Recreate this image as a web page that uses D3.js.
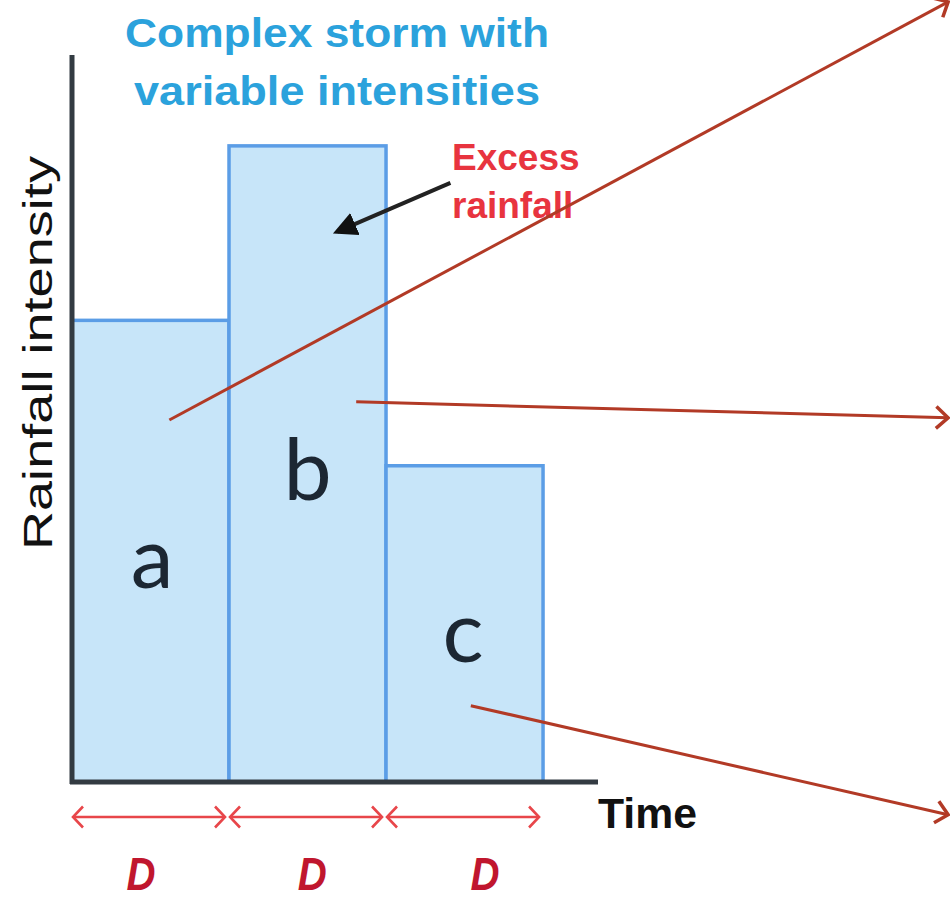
<!DOCTYPE html>
<html>
<head>
<meta charset="utf-8">
<script src="https://cdn.jsdelivr.net/npm/d3@7"></script>
<style>
  body { margin: 0; background: #fff; }
  svg { display: block; }
</style>
</head>
<body>
<div id="chart"></div>
<script>
let w = 952;
let h = 907;

// bars: one per duration D
const categories = ["a", "b", "c"];
const intensity = [63.5, 87.5, 43.5];
const durationLabels = ["D", "D", "D"];
const durationLabelTime = [0.44, 1.53, 2.63];

// where the letter sits inside each bar (time, intensity)
const letterTime = [0.51, 1.5, 2.49];
const letterIntensity = [26.7, 38.8, 16.5];

// red-brown arrows leaving the bars (time, intensity)
const arrowFromT = [0.62, 1.81, 2.54];
const arrowFromI = [49.8, 52.3, 10.5];
const arrowToT = [5.58, 5.58, 5.58];
const arrowToI = [107.3, 50.1, -4.5];

// "Excess rainfall" pointer
const excessFrom = [2.41, 82.4];
const excessTo = [1.69, 75.7];

let viz = d3.select("#chart")
  .append("svg")
    .attr("width", w)
    .attr("height", h);

let x = d3.scaleLinear().domain([0, 3.35]).range([72, 598]);
let y = d3.scaleLinear().domain([0, 100]).range([782, 55]);

let defs = viz.append("defs");

// open chevron head for the brown arrows
defs.append("marker")
    .attr("id", "brownHead")
    .attr("viewBox", "0 0 16 26")
    .attr("refX", 14).attr("refY", 13)
    .attr("markerWidth", 16).attr("markerHeight", 26)
    .attr("markerUnits", "userSpaceOnUse")
    .attr("orient", "auto")
  .append("path")
    .attr("d", "M2,2 L14,13 L2,24")
    .attr("fill", "none")
    .attr("stroke", "#b23a26")
    .attr("stroke-width", 3.5);

// chevrons for the D spans
defs.append("marker")
    .attr("id", "redHead")
    .attr("viewBox", "0 0 14 24")
    .attr("refX", 12).attr("refY", 12)
    .attr("markerWidth", 14).attr("markerHeight", 24)
    .attr("markerUnits", "userSpaceOnUse")
    .attr("orient", "auto-start-reverse")
  .append("path")
    .attr("d", "M2,1.5 L12,12 L2,22.5")
    .attr("fill", "none")
    .attr("stroke", "#e8464a")
    .attr("stroke-width", 2.6);

// filled black head
defs.append("marker")
    .attr("id", "blackHead")
    .attr("viewBox", "0 0 10 10")
    .attr("refX", 8).attr("refY", 5)
    .attr("markerWidth", 24).attr("markerHeight", 24)
    .attr("markerUnits", "userSpaceOnUse")
    .attr("orient", "auto")
  .append("path")
    .attr("d", "M0,0 L10,5 L0,10 Z")
    .attr("fill", "#111");

///////////////////////////////////////////////////////////////////////////
// BARS

viz.selectAll(".bar").data(intensity)
  .enter()
    .append("rect")
    .attr("class", "bar")
    .attr("x", (d, i) => x(i))
    .attr("y", d => y(d))
    .attr("width", x(1) - x(0))
    .attr("height", d => y(0) - y(d))
    .attr("fill", "#c7e5f9")
    .attr("stroke", "#5b9de6")
    .attr("stroke-width", 3.5);

viz.selectAll(".letter").data(categories)
  .enter()
    .append("text")
    .attr("class", "letter")
    .attr("x", (d, i) => x(letterTime[i]))
    .attr("y", (d, i) => y(letterIntensity[i]))
    .attr("text-anchor", "middle")
    .attr("font-family", "Lato, 'Noto Sans', sans-serif")
    .attr("font-size", 86)
    .attr("fill", "#1c2733")
    .text(d => d);

///////////////////////////////////////////////////////////////////////////
// AXES (plain lines, no ticks)

viz.append("line")
    .attr("x1", x(0)).attr("x2", x(0))
    .attr("y1", y(100)).attr("y2", y(0) + 2)
    .attr("stroke", "#333b42")
    .attr("stroke-width", 5);

viz.append("line")
    .attr("x1", x(0) - 2).attr("x2", x(3.35))
    .attr("y1", y(0)).attr("y2", y(0))
    .attr("stroke", "#333b42")
    .attr("stroke-width", 5);

viz.append("text")
    .attr("x", x(3.35))
    .attr("y", 828)
    .attr("font-family", "'Liberation Sans', Arial, sans-serif")
    .attr("font-weight", "bold")
    .attr("font-size", 42)
    .attr("textLength", 99)
    .attr("lengthAdjust", "spacingAndGlyphs")
    .attr("fill", "#111")
    .text("Time");

viz.append("text")
    .attr("transform", "translate(52," + y(59) + ") rotate(-90)")
    .attr("text-anchor", "middle")
    .attr("font-family", "'Liberation Sans', Arial, sans-serif")
    .attr("font-size", 40)
    .attr("textLength", 394)
    .attr("lengthAdjust", "spacingAndGlyphs")
    .attr("fill", "#111")
    .text("Rainfall intensity");

///////////////////////////////////////////////////////////////////////////
// D SPANS

viz.selectAll(".span").data(durationLabels)
  .enter()
    .append("line")
    .attr("class", "span")
    .attr("x1", (d, i) => x(i) + 1)
    .attr("x2", (d, i) => x(i + 1) - 4)
    .attr("y1", 817).attr("y2", 817)
    .attr("stroke", "#e8464a")
    .attr("stroke-width", 2.4)
    .attr("marker-start", "url(#redHead)")
    .attr("marker-end", "url(#redHead)");

viz.selectAll(".dlabel").data(durationLabels)
  .enter()
    .append("text")
    .attr("class", "dlabel")
    .attr("x", (d, i) => x(durationLabelTime[i]))
    .attr("y", 890)
    .attr("text-anchor", "middle")
    .attr("font-family", "'Liberation Sans', Arial, sans-serif")
    .attr("font-weight", "bold")
    .attr("font-style", "italic")
    .attr("font-size", 46)
    .attr("textLength", 29)
    .attr("lengthAdjust", "spacingAndGlyphs")
    .attr("fill", "#c0162e")
    .text(d => d);

///////////////////////////////////////////////////////////////////////////
// TITLE + ANNOTATIONS

let titleLines = ["Complex storm with", "variable intensities"];
viz.selectAll(".title").data(titleLines)
  .enter()
    .append("text")
    .attr("class", "title")
    .attr("x", 337)
    .attr("y", (d, i) => 47 + i * 58)
    .attr("text-anchor", "middle")
    .attr("font-family", "'Liberation Sans', Arial, sans-serif")
    .attr("font-weight", "bold")
    .attr("font-size", 40)
    .attr("textLength", (d, i) => i == 0 ? 424 : 406)
    .attr("lengthAdjust", "spacingAndGlyphs")
    .attr("fill", "#2ba2dc")
    .text(d => d);

let excessLines = ["Excess", "rainfall"];
viz.selectAll(".excess").data(excessLines)
  .enter()
    .append("text")
    .attr("class", "excess")
    .attr("x", 452)
    .attr("y", (d, i) => 170 + i * 48)
    .attr("font-family", "'Liberation Sans', Arial, sans-serif")
    .attr("font-weight", "bold")
    .attr("font-size", 37)
    .attr("fill", "#e8343f")
    .text(d => d);

viz.append("line")
    .attr("x1", x(excessFrom[0])).attr("y1", y(excessFrom[1]))
    .attr("x2", x(excessTo[0])).attr("y2", y(excessTo[1]))
    .attr("stroke", "#222")
    .attr("stroke-width", 4)
    .attr("marker-end", "url(#blackHead)");

viz.selectAll(".outArrow").data(arrowFromT)
  .enter()
    .append("line")
    .attr("class", "outArrow")
    .attr("x1", (d, i) => x(d))
    .attr("y1", (d, i) => y(arrowFromI[i]))
    .attr("x2", (d, i) => x(arrowToT[i]))
    .attr("y2", (d, i) => y(arrowToI[i]))
    .attr("stroke", "#b23a26")
    .attr("stroke-width", 3)
    .attr("marker-end", "url(#brownHead)");
</script>
</body>
</html>
